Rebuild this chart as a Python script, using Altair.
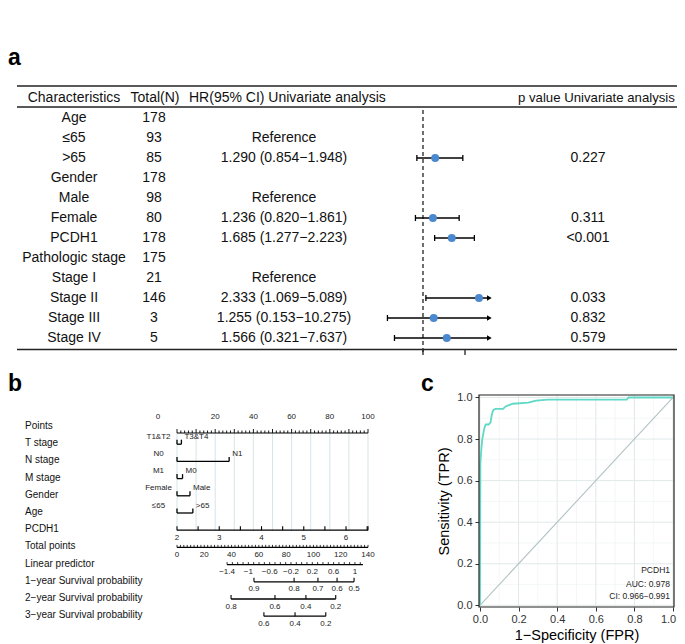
import altair as alt
import pandas as pd
import numpy as np

FONT = "Liberation Sans"
W, H = 669, 636

# ===================== Panel a: univariate Cox table + forest =====================
characteristics = ["Age", "≤65", ">65", "Gender", "Male", "Female", "PCDH1",
                   "Pathologic stage", "Stage I", "Stage II", "Stage III", "Stage IV"]
total_n = ["178", "93", "85", "178", "98", "80", "178", "175", "21", "146", "3", "5"]
hr_ci_text = ["", "Reference", "1.290 (0.854−1.948)", "", "Reference",
              "1.236 (0.820−1.861)", "1.685 (1.277−2.223)", "", "Reference",
              "2.333 (1.069−5.089)", "1.255 (0.153−10.275)", "1.566 (0.321−7.637)"]
p_values = ["", "", "0.227", "", "", "0.311", "<0.001", "", "", "0.033", "0.832", "0.579"]
headers = ["Characteristics", "Total(N)", "HR(95% CI) Univariate analysis",
           "p value Univariate analysis"]

hr_rows = [3, 6, 7, 10, 11, 12]
hr_est = [1.290, 1.236, 1.685, 2.333, 1.255, 1.566]
hr_low = [0.854, 0.820, 1.277, 1.069, 0.153, 0.321]
hr_high = [1.948, 1.861, 2.223, 5.089, 10.275, 7.637]
hr_axis_ticks = [1.0, 2.0]
HR_LIMIT = 2.58   # right end of the plotted HR range (arrows beyond)

# ===================== Panel b: nomogram =====================
nomo_labels = ["Points", "T stage", "N stage", "M stage", "Gender", "Age", "PCDH1",
               "Total points", "Linear predictor", "1−year Survival probability",
               "2−year Survival probability", "3−year Survival probability"]
cat_rows = [1, 2, 3, 4, 5]
cat_low = ["T1&T2", "N0", "M1", "Female", "≤65"]
cat_high = ["T3&T4", "N1", "M0", "Male", ">65"]
cat_high_points = [2.3, 27.3, 2.9, 6.8, 8.3]

points_labels = [0, 20, 40, 60, 80, 100]
pcdh1_ticks = [2, 2.5, 3, 3.5, 4, 4.5, 5, 5.5, 6, 6.5]
pcdh1_labels = [2, 3, 4, 5, 6]
pcdh1_max = 6.52
total_labels = [0, 20, 40, 60, 80, 100, 120, 140]
lp_labels = [-1.4, -1.0, -0.6, -0.2, 0.2, 0.6, 1.0]
lp_max = 1.15
surv1_labels = ["0.9", "0.8", "0.7", "0.6", "0.5"]
surv1_points = [40.3, 61.3, 73.8, 83.8, 92.7]
surv2_labels = ["0.8", "0.6", "0.4", "0.2"]
surv2_points = [28.3, 51.3, 67.5, 83.1]
surv3_labels = ["0.6", "0.4", "0.2"]
surv3_points = [45.5, 61.8, 77.9]

# ===================== Panel c: ROC =====================
roc_fpr = [0, 0.002, 0.004, 0.008, 0.012, 0.016, 0.02, 0.025, 0.03, 0.045, 0.055, 0.06,
           0.065, 0.07, 0.08, 0.12, 0.13, 0.14, 0.17, 0.25, 0.29, 0.35, 0.5, 0.76, 0.77, 1.0]
roc_tpr = [0, 0.68, 0.71, 0.76, 0.80, 0.82, 0.84, 0.86, 0.87, 0.87, 0.88, 0.91,
           0.93, 0.94, 0.945, 0.945, 0.955, 0.96, 0.97, 0.975, 0.985, 0.99, 0.99, 0.99, 1.0, 1.0]
roc_ticks = [0.0, 0.2, 0.4, 0.6, 0.8, 1.0]
roc_minor = [0.1, 0.3, 0.5, 0.7, 0.9]
roc_notes = ["PCDH1", "AUC: 0.978", "CI: 0.966−0.991"]


# ---------------------------------------------------------------------------
def sc(domain, rng):
    return alt.Scale(domain=domain, range=rng, zero=False, nice=False)

rowA = sc([0, 12], [90, 330])
hrS = sc([0, 3], [373, 499])
nx = sc([0, 100], [169, 360])
ny = sc([0, 11], [418, 607.2])
rx = sc([-0.005, 1.005], [471, 666])
ry = sc([-0.008, 1.012], [599, 387])

def X(f, s): return alt.X(f, scale=s, axis=None)
def Y(f, s): return alt.Y(f, scale=s, axis=None)

layers = []

# ---------- panel a ----------
tab = pd.DataFrame({"row": list(range(1, 13)), "char": characteristics, "n": total_n,
                    "hr": hr_ci_text, "p": p_values})
rules_a = pd.DataFrame({"y": [-0.6, 0.45, 12.575]})
layers.append(alt.Chart(rules_a).mark_rule(color="#222", strokeWidth=1.3).encode(
    y=Y("y:Q", rowA), x=alt.value(9), x2=alt.value(669)))

for field, xpx in [("char", 66), ("n", 146), ("hr", 276), ("p", 580)]:
    layers.append(alt.Chart(tab).mark_text(fontSize=14, align="center", baseline="middle",
                                           color="#111").encode(
        x=alt.value(xpx), y=Y("row:Q", rowA), text=f"{field}:N"))

head = pd.DataFrame({"row": [0], "h0": [headers[0]], "h1": [headers[1]],
                     "h2": [headers[2]], "h3": [headers[3]]})
for field, xpx, al, fs in [("h0", 66, "center", 14), ("h1", 147, "center", 14),
                           ("h2", 181, "left", 14), ("h3", 510, "left", 13.2)]:
    layers.append(alt.Chart(head).mark_text(fontSize=fs, align=al, baseline="middle",
                                            color="#111").encode(
        x=alt.value(xpx), y=Y("row:Q", rowA), text=f"{field}:N"))

forest = pd.DataFrame({"row": hr_rows, "est": hr_est, "lo": hr_low, "hi": hr_high})
forest["hi_draw"] = forest["hi"].clip(upper=HR_LIMIT)
forest["clipped"] = forest["hi"] > HR_LIMIT
caps = pd.concat([forest[["row", "lo"]].rename(columns={"lo": "x"}),
                  forest.loc[~forest["clipped"], ["row", "hi"]].rename(columns={"hi": "x"})])
arrows = forest.loc[forest["clipped"], ["row"]].copy()
arrows["x"] = HR_LIMIT

refline = pd.DataFrame({"hr": [1.0], "y0": [0.6], "y1": [12.85]})
layers.append(alt.Chart(refline).mark_rule(strokeDash=[4, 3], color="#333", strokeWidth=1.4).encode(
    x=X("hr:Q", hrS), y=Y("y0:Q", rowA), y2="y1:Q"))
axt = pd.DataFrame({"hr": hr_axis_ticks, "y0": [12.575] * 2, "y1": [12.85] * 2})
layers.append(alt.Chart(axt).mark_rule(color="#222", strokeWidth=1.3).encode(
    x=X("hr:Q", hrS), y=Y("y0:Q", rowA), y2="y1:Q"))
layers.append(alt.Chart(forest).mark_rule(color="black", strokeWidth=1.3).encode(
    x=X("lo:Q", hrS), x2="hi_draw:Q", y=Y("row:Q", rowA)))
layers.append(alt.Chart(caps).mark_rule(color="black", strokeWidth=1.3, yOffset=-3, y2Offset=3).encode(
    x=X("x:Q", hrS), y=Y("row:Q", rowA), y2="row:Q"))
layers.append(alt.Chart(arrows).mark_point(shape="triangle-right", filled=True, size=30,
                                           color="black", opacity=1).encode(
    x=X("x:Q", hrS), y=Y("row:Q", rowA)))
layers.append(alt.Chart(forest).mark_circle(size=64, color="#4a89cf", opacity=1).encode(
    x=X("est:Q", hrS), y=Y("row:Q", rowA)))

# ---------- panel b ----------
nl = pd.DataFrame({"row": list(range(12)), "lab": nomo_labels})
layers.append(alt.Chart(nl).mark_text(fontSize=10, align="left", baseline="middle",
                                      color="#111").encode(
    x=alt.value(17), y=Y("row:Q", ny), text="lab:N"))

grid_b = pd.DataFrame({"x": list(range(0, 101, 10)), "y0": [0] * 11, "y1": [6] * 11})
layers.append(alt.Chart(grid_b).mark_rule(color="#cadde3", strokeWidth=0.8, yOffset=7, y2Offset=2).encode(
    x=X("x:Q", nx), y=Y("y0:Q", ny), y2="y1:Q"))

# points axis (row 0)
p_line = pd.DataFrame({"row": [0], "x0": [0], "x1": [100]})
layers.append(alt.Chart(p_line).mark_rule(color="black", strokeWidth=1.1, yOffset=7).encode(
    x=X("x0:Q", nx), x2="x1:Q", y=Y("row:Q", ny)))
p_minor = pd.DataFrame({"x": [v for v in range(0, 101, 2) if v % 10], "row": 0})
layers.append(alt.Chart(p_minor).mark_rule(color="black", strokeWidth=0.9, yOffset=7, y2Offset=4.5).encode(
    x=X("x:Q", nx), y=Y("row:Q", ny), y2="row:Q"))
p_major = pd.DataFrame({"x": list(range(0, 101, 10)), "row": 0})
layers.append(alt.Chart(p_major).mark_rule(color="black", strokeWidth=0.9, yOffset=7, y2Offset=3).encode(
    x=X("x:Q", nx), y=Y("row:Q", ny), y2="row:Q"))
p_lab = pd.DataFrame({"x": points_labels[1:], "row": 0, "t": [str(v) for v in points_labels[1:]]})
layers.append(alt.Chart(p_lab).mark_text(fontSize=8, align="center", baseline="middle", dy=-9,
                                         color="#222").encode(
    x=X("x:Q", nx), y=Y("row:Q", ny), text="t:N"))
p0 = pd.DataFrame({"x": [points_labels[0]], "row": 0, "t": [str(points_labels[0])]})
layers.append(alt.Chart(p0).mark_text(fontSize=8, align="center", baseline="middle", dy=-9, dx=-19,
                                      color="#222").encode(
    x=X("x:Q", nx), y=Y("row:Q", ny), text="t:N"))

# categorical rows
cat = pd.DataFrame({"row": cat_rows, "x0": [0] * 5, "x1": cat_high_points,
                    "lo": cat_low, "hi": cat_high})
layers.append(alt.Chart(cat).mark_rule(color="black", strokeWidth=1.3, yOffset=1).encode(
    x=X("x0:Q", nx), x2="x1:Q", y=Y("row:Q", ny)))
cat_ticks = pd.concat([cat[["row", "x0"]].rename(columns={"x0": "x"}),
                       cat[["row", "x1"]].rename(columns={"x1": "x"})])
layers.append(alt.Chart(cat_ticks).mark_rule(color="black", strokeWidth=1.3, yOffset=1, y2Offset=-3.5).encode(
    x=X("x:Q", nx), y=Y("row:Q", ny), y2="row:Q"))
layers.append(alt.Chart(cat).mark_text(fontSize=8, align="center", baseline="middle", dy=-6.5, dx=-18.5,
                                       color="#222").encode(
    x=X("x0:Q", nx), y=Y("row:Q", ny), text="lo:N"))
layers.append(alt.Chart(cat).mark_text(fontSize=8, align="left", baseline="middle", dy=-6.5, dx=3,
                                       color="#222").encode(
    x=X("x1:Q", nx), y=Y("row:Q", ny), text="hi:N"))

# numeric rows: mapping of each scale onto the Points scale
def pcdh1_pts(v): return (v - 2) * 100 / (pcdh1_max - 2)
def total_pts(t): return t / 1.4
def lp_pts(v): return 26.2 + (v + 1.4) * 27.9

num_lines = pd.DataFrame({
    "row": [6, 7, 8, 9, 10, 11],
    "x0": [0, 0, lp_pts(-1.4), surv1_points[0], surv2_points[0], surv3_points[0]],
    "x1": [100, 100, lp_pts(lp_max), surv1_points[-1], surv2_points[-1], surv3_points[-1]],
})
layers.append(alt.Chart(num_lines).mark_rule(color="black", strokeWidth=1.3, yOffset=1).encode(
    x=X("x0:Q", nx), x2="x1:Q", y=Y("row:Q", ny)))

tall = ([(6, pcdh1_pts(v)) for v in pcdh1_ticks] +
        [(9, v) for v in surv1_points] + [(10, v) for v in surv2_points] +
        [(11, v) for v in surv3_points] + [(6, 100.0)])
short = ([(7, total_pts(t)) for t in np.arange(0, 140.01, 2.5)] +
         [(8, lp_pts(v)) for v in np.round(np.arange(-1.4, 1.101, 0.1), 2)])
tall_df = pd.DataFrame(tall, columns=["row", "x"])
short_df = pd.DataFrame(short, columns=["row", "x"])
layers.append(alt.Chart(tall_df).mark_rule(color="black", strokeWidth=1.1, yOffset=1, y2Offset=-3).encode(
    x=X("x:Q", nx), y=Y("row:Q", ny), y2="row:Q"))
layers.append(alt.Chart(short_df).mark_rule(color="black", strokeWidth=0.8, yOffset=1, y2Offset=-1.5).encode(
    x=X("x:Q", nx), y=Y("row:Q", ny), y2="row:Q"))

def fmt_lp(v):
    s = f"{v:g}"
    return s.replace("-", "−")

nlab = ([(6, pcdh1_pts(v), str(v)) for v in pcdh1_labels] +
        [(7, total_pts(t), str(t)) for t in total_labels] +
        [(8, lp_pts(v), fmt_lp(v)) for v in lp_labels] +
        list(zip([9] * 5, surv1_points, surv1_labels)) +
        list(zip([10] * 4, surv2_points, surv2_labels)) +
        list(zip([11] * 3, surv3_points, surv3_labels)))
nlab_df = pd.DataFrame(nlab, columns=["row", "x", "t"])
layers.append(alt.Chart(nlab_df).mark_text(fontSize=8, align="center", baseline="middle", dy=8.5,
                                           color="#222").encode(
    x=X("x:Q", nx), y=Y("row:Q", ny), text="t:N"))

# ---------- panel c ----------
gmaj = pd.DataFrame({"v": roc_ticks, "a": -0.008, "b": 1.012, "c": -0.005, "d": 1.005})
gmin = pd.DataFrame({"v": roc_minor, "a": -0.008, "b": 1.012, "c": -0.005, "d": 1.005})
for g, col, wd in [(gmin, "#edf2f2", 0.6), (gmaj, "#e1e8e8", 1.0)]:
    layers.append(alt.Chart(g).mark_rule(color=col, strokeWidth=wd).encode(
        x=X("v:Q", rx), y=Y("a:Q", ry), y2="b:Q"))
    layers.append(alt.Chart(g).mark_rule(color=col, strokeWidth=wd).encode(
        y=Y("v:Q", ry), x=X("c:Q", rx), x2="d:Q"))

diag = pd.DataFrame({"fpr": [0, 1], "tpr": [0, 1]})
layers.append(alt.Chart(diag).mark_line(color="#b2c2c4", strokeWidth=1.1).encode(
    x=X("fpr:Q", rx), y=Y("tpr:Q", ry)))
roc = pd.DataFrame({"fpr": roc_fpr, "tpr": roc_tpr, "i": list(range(len(roc_fpr)))})
layers.append(alt.Chart(roc).mark_line(color="#5fd8c5", strokeWidth=1.8).encode(
    x=X("fpr:Q", rx), y=Y("tpr:Q", ry), order="i:Q"))

frame = pd.DataFrame({"x0": [-0.005], "x1": [1.005], "y0": [-0.008], "y1": [1.012]})
ax_common = dict(values=roc_ticks, format=".1f", grid=False, domain=False, tickSize=4,
                 tickColor="#333", tickWidth=1, labelFontSize=11, labelColor="#333",
                 labelFlush=False, labelOverlap=False, titleFontSize=14.5,
                 titleFontWeight="normal", titleColor="black", labelFont=FONT, titleFont=FONT)
layers.append(alt.Chart(frame).mark_rect(fillOpacity=0, stroke="#222", strokeWidth=1.2).encode(
    x=alt.X("x0:Q", scale=rx, axis=alt.Axis(
        orient="bottom", offset=599 - H, labelPadding=2, titlePadding=4,
        title="1−Specificity (FPR)",
        labelOffset={"condition": {"test": "datum.value >= 0.999", "value": -5}, "value": 0},
        **ax_common)),
    x2="x1:Q",
    y=alt.Y("y0:Q", scale=ry, axis=alt.Axis(orient="left", offset=-471, labelPadding=3,
                                             titlePadding=5, title="Sensitivity (TPR)",
                                             **ax_common)),
    y2="y1:Q"))

notes = pd.DataFrame({"t": roc_notes})
for i, ypx in enumerate([562, 575.5, 588]):
    layers.append(alt.Chart(notes.iloc[[i]]).mark_text(fontSize=8.5, align="right", baseline="middle",
                                                      color="#222").encode(
        x=alt.value(662), y=alt.value(ypx), text="t:N"))

# ---------- panel letters ----------
for letter, xpx, ypx in [("a", 0, 57), ("b", 0, 383), ("c", 413, 383)]:
    layers.append(alt.Chart(pd.DataFrame({"t": [letter]})).mark_text(
        fontSize=23, fontWeight="bold", align="left", baseline="alphabetic", color="black").encode(
        x=alt.value(xpx), y=alt.value(ypx), text="t:N"))

chart = alt.layer(*layers).resolve_scale(x="independent", y="independent").properties(
    width=W, height=H, autosize=alt.AutoSizeParams(type="none"), padding=0
).configure(font=FONT).configure_view(strokeWidth=0)

chart.save("out.html", embed_options={"renderer": "svg", "actions": False})
